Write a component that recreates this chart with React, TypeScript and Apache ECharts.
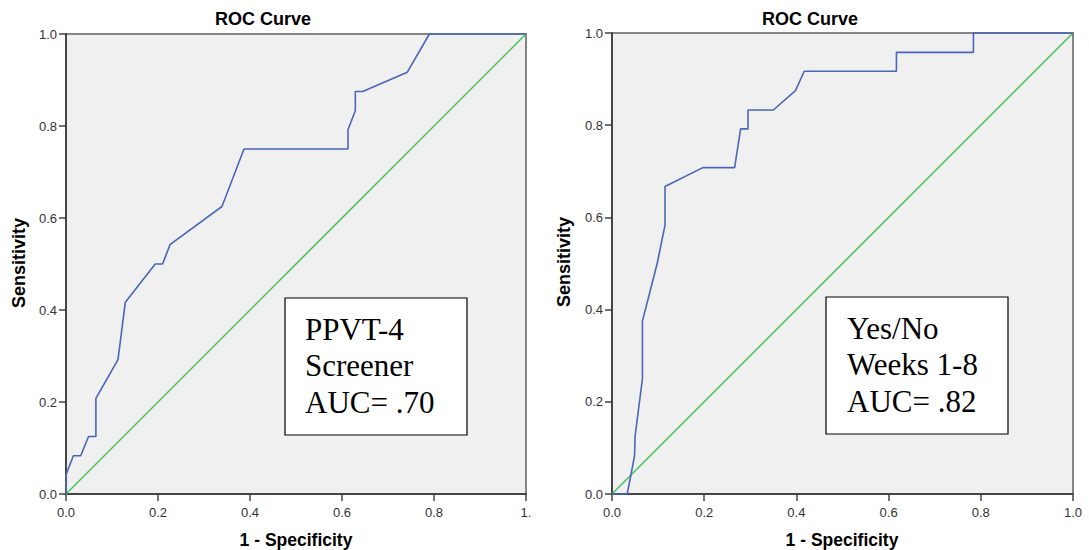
import React, { useEffect, useRef } from "react";
import * as echarts from "echarts";

// Left chart: PPVT-4 Screener ROC curve (1 - specificity, sensitivity)
const leftFpr = [0, 0, 0.016, 0.032, 0.049, 0.065, 0.065, 0.113, 0.129, 0.194, 0.21, 0.226, 0.339, 0.387, 0.613, 0.613, 0.629, 0.629, 0.645, 0.742, 0.79, 1];
const leftTpr = [0, 0.042, 0.083, 0.083, 0.125, 0.125, 0.208, 0.292, 0.417, 0.5, 0.5, 0.542, 0.625, 0.75, 0.75, 0.792, 0.833, 0.875, 0.875, 0.917, 1, 1];

// Right chart: Yes/No Weeks 1-8 ROC curve
const rightFpr = [0, 0.033, 0.049, 0.05, 0.066, 0.066, 0.098, 0.115, 0.115, 0.197, 0.266, 0.279, 0.295, 0.295, 0.35, 0.398, 0.417, 0.617, 0.617, 0.784, 0.784, 1];
const rightTpr = [0, 0, 0.083, 0.125, 0.25, 0.375, 0.5, 0.583, 0.667, 0.708, 0.708, 0.792, 0.792, 0.833, 0.833, 0.875, 0.917, 0.917, 0.958, 0.958, 1, 1];

const refFpr = [0, 1];
const refTpr = [0, 1];

const tickValues = [0, 0.2, 0.4, 0.6, 0.8, 1.0];

const chartTitle = "ROC Curve";
const xName = "1 - Specificity";
const yName = "Sensitivity";
const leftBoxLines = ["PPVT-4", "Screener", "AUC= .70"];
const rightBoxLines = ["Yes/No", "Weeks 1-8", "AUC= .82"];

const SANS = "'Liberation Sans', Arial, sans-serif";
const SERIF = "'Liberation Serif', 'Times New Roman', serif";

function pairs(xs: number[], ys: number[]) {
  return xs.map((x, i) => [x, ys[i]]);
}

export default function App() {
  const ref = useRef<HTMLDivElement>(null);

  useEffect(() => {
    if (!ref.current) return;
    const chart = echarts.init(ref.current, null, { renderer: "svg" });

    const axisCommon = (idx: number, isX: boolean, clipOne: boolean) => ({
      type: "value",
      gridIndex: idx,
      min: 0,
      max: 1,
      interval: 0.2,
      splitLine: { show: false },
      axisLine: { show: true, onZero: false, lineStyle: { color: "#454545", width: 2 } },
      axisTick: { show: true, inside: false, length: 7, lineStyle: { color: "#454545", width: 1.5 } },
      axisLabel: {
        show: true,
        margin: isX ? 12 : 9,
        color: "#333",
        fontSize: 13,
        fontFamily: SANS,
        formatter: (v: number) => (clipOne && v === 1 ? "1." : v.toFixed(1)),
      },
    });

    const gridStyle = {
      show: true,
      backgroundColor: "#F0F0F0",
      borderColor: "#858585",
      borderWidth: 2,
      containLabel: false,
    };

    const titleText = (x: number, y: number, text: string, size: number, rotate = 0) => ({
      type: "text",
      x,
      y,
      rotation: rotate,
      style: {
        text,
        fill: "#000",
        font: `bold ${size}px ${SANS}`,
        textAlign: "center",
        textVerticalAlign: "middle",
      },
    });

    const box = (x: number, y: number, w: number, h: number, tx: number, lines: string[]) => [
      {
        type: "rect",
        shape: { x, y, width: w, height: h },
        style: { fill: "#fff", stroke: "#000", lineWidth: 1.2 },
        z: 100,
      },
      {
        type: "text",
        x: tx,
        y: y + 13,
        z: 101,
        style: {
          text: lines.join("\n"),
          fill: "#000",
          font: `31px ${SERIF}`,
          lineHeight: 36.5,
          textAlign: "left",
          textVerticalAlign: "top",
        },
      },
    ];

    const option = {
      animation: false,
      backgroundColor: "#fff",
      grid: [
        { left: 66, top: 34, width: 460, height: 460, ...gridStyle },
        { left: 612, top: 33, width: 461, height: 461, ...gridStyle },
      ],
      xAxis: [axisCommon(0, true, true), axisCommon(1, true, false)],
      yAxis: [axisCommon(0, false, false), axisCommon(1, false, false)],
      series: [
        {
          type: "line",
          xAxisIndex: 0,
          yAxisIndex: 0,
          data: pairs(refFpr, refTpr),
          showSymbol: false,
          lineStyle: { color: "#45C15A", width: 1.5 },
          z: 2,
        },
        {
          type: "line",
          xAxisIndex: 0,
          yAxisIndex: 0,
          data: pairs(leftFpr, leftTpr),
          showSymbol: false,
          clip: false,
          lineStyle: { color: "#4A66BA", width: 1.6 },
          z: 3,
        },
        {
          type: "line",
          xAxisIndex: 1,
          yAxisIndex: 1,
          data: pairs(refFpr, refTpr),
          showSymbol: false,
          lineStyle: { color: "#45C15A", width: 1.5 },
          z: 2,
        },
        {
          type: "line",
          xAxisIndex: 1,
          yAxisIndex: 1,
          data: pairs(rightFpr, rightTpr),
          showSymbol: false,
          clip: false,
          lineStyle: { color: "#4A66BA", width: 1.6 },
          z: 3,
        },
      ],
      graphic: [
        titleText(263, 19, chartTitle, 18),
        titleText(810, 19, chartTitle, 18),
        titleText(296, 540, xName, 17.5),
        titleText(842, 540, xName, 17.5),
        titleText(19, 263, yName, 18, Math.PI / 2),
        titleText(564, 262, yName, 18, Math.PI / 2),
        ...box(285, 298, 182, 137, 305, leftBoxLines),
        ...box(826, 297, 182, 137, 847, rightBoxLines),
      ],
    };

    chart.setOption(option as any);
    return () => chart.dispose();
  }, []);

  return (
    <div
      ref={ref}
      style={{ position: "absolute", left: 0, top: 0, width: 1089, height: 550 }}
    />
  );
}
